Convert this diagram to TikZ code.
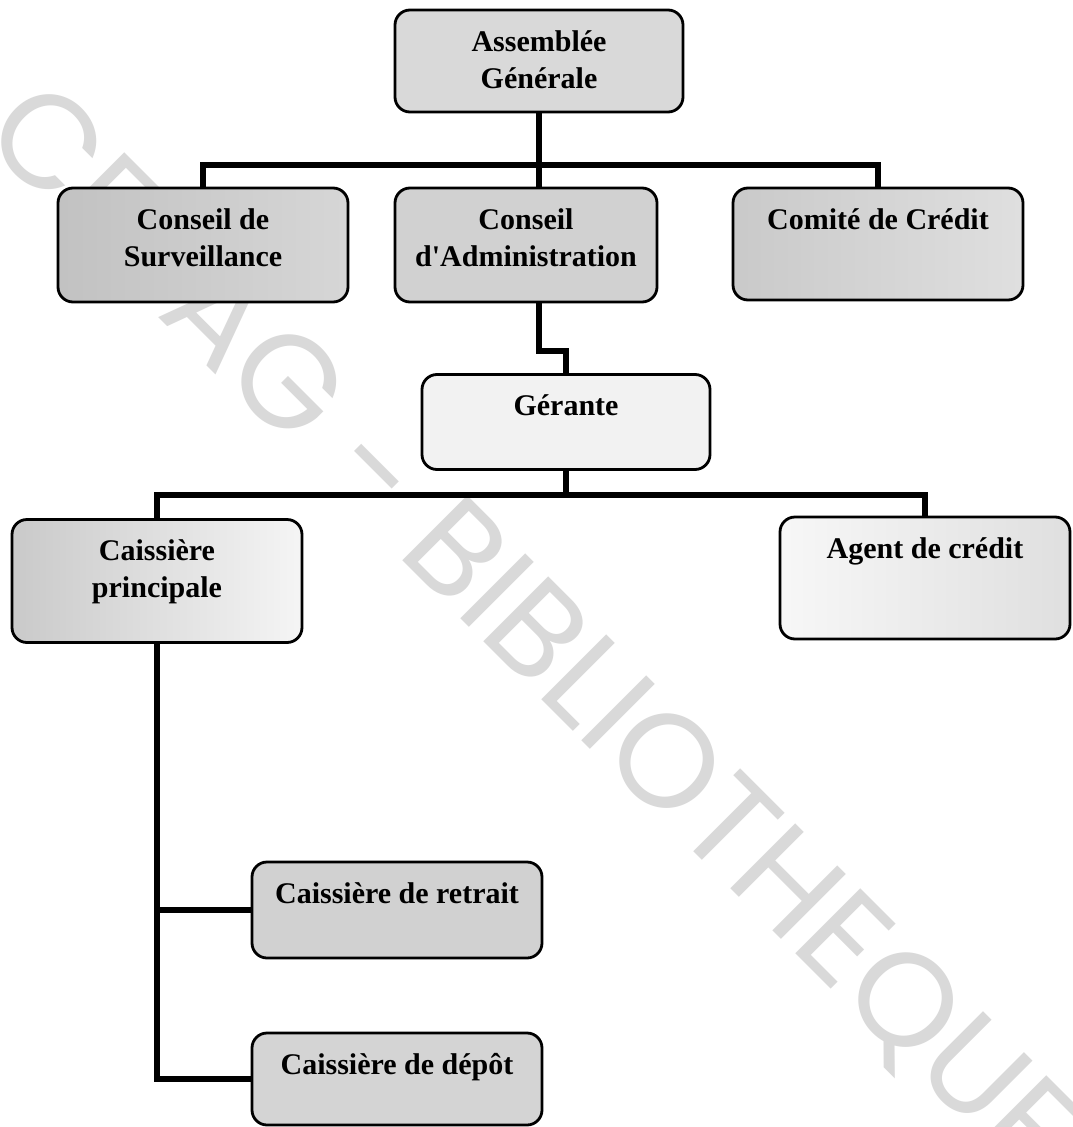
\documentclass[tikz,border=0pt]{standalone}
\usepackage{fontspec}
\setmainfont{Liberation Serif}[Ligatures=TeXOff]
\newfontfamily\wmfont{Poppins}
\definecolor{wmgray}{HTML}{D9D9D9}
% box label: width, height, lines (first baseline fixed below the top edge)
\newcommand\orgtext[3]{\parbox[c][#2pt][t]{#1pt}{\centering\rule{0pt}{41pt}#3}}
\begin{document}
\begin{tikzpicture}[x=1pt,y=-1pt,
  orgbox/.style={draw=black, line width=2.8pt, rounded corners=15pt, inner sep=0pt,
    font=\bfseries\fontsize{30}{37}\selectfont},
  link/.style={line width=6pt},
  wm/.style={text=wmgray, font=\wmfont\fontsize{133}{133}\selectfont, inner sep=0pt}]
\useasboundingbox (0,0) rectangle (1072,1127);
\fill[white] (0,0) rectangle (1072,1127);

% background stamp
\node[wm, rotate=-45] (stamp) at (528,633) {\resizebox{1476pt}{93pt}{CESAG - BIBLIOTHEQUE}};

% boxes
\node[orgbox, fill=gray!30] (AG) at (539,61) {\orgtext{288}{102}{Assemblée\\Générale}};
\node[orgbox, left color=gray!48, right color=gray!32] (CS) at (203,245) {\orgtext{290}{114}{Conseil de\\Surveillance}};
\node[orgbox, fill=gray!36] (CA) at (526,245) {\orgtext{262}{114}{Conseil\\d'Administration}};
\node[orgbox, left color=gray!42, right color=gray!25] (CC) at (878,244) {\orgtext{290}{112}{Comité de Crédit}};
\node[orgbox, fill=gray!10] (GE) at (566,422) {\orgtext{288}{95}{Gérante}};
\node[orgbox, left color=gray!42, right color=gray!8] (CP) at (157,581) {\orgtext{290}{123}{Caissière\\principale}};
\node[orgbox, left color=gray!6, right color=gray!25] (AC) at (925,578) {\orgtext{290}{122}{Agent de crédit}};
\node[orgbox, fill=gray!36] (CR) at (397,910) {\orgtext{290}{96}{Caissière de retrait}};
\node[orgbox, fill=gray!34] (CD) at (397,1079) {\orgtext{290}{92}{Caissière de dépôt}};

% bus levels
\coordinate (busA) at (539,165);
\coordinate (busB) at (566,495);

% connectors
\draw[link] (AG.south) -- (AG.south |- CA.north);
\draw[link] (CS.north) |- (busA) -| (CC.north);
\draw[link] (CA.south -| AG.south) -- ++(0,48) -| (GE.north);
\draw[link] (GE.south) -- (busB);
\draw[link] (CP.north) |- (busB) -| (AC.north);
\draw[link] (CP.south) |- (CD.west);
\draw[link] (CP.south |- CR.west) -- (CR.west);
\end{tikzpicture}
\end{document}
